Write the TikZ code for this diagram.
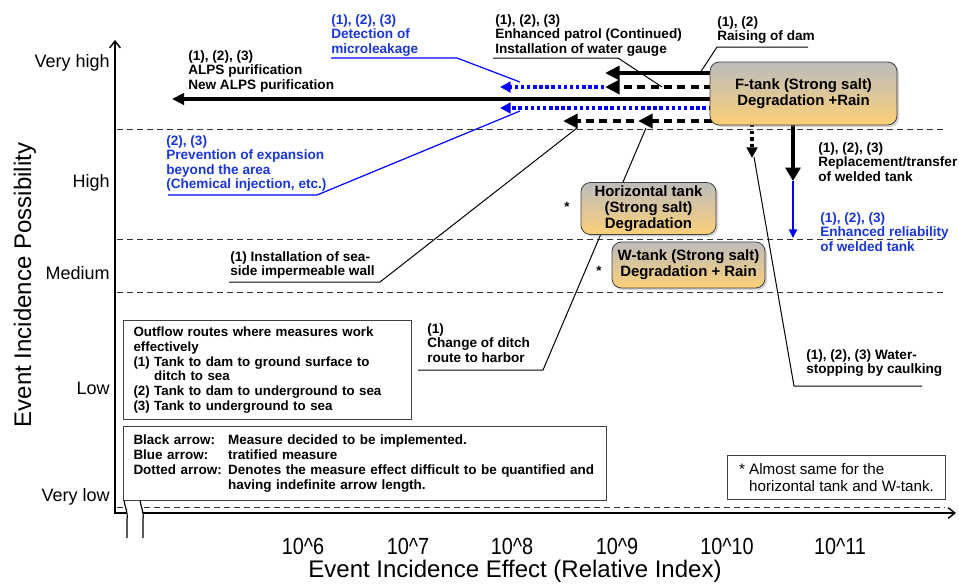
\documentclass[tikz,border=0pt]{standalone}
\usepackage{fontspec}
\setmainfont{Liberation Sans}
\usepackage{graphicx}
\usetikzlibrary{arrows.meta,shadows}
\definecolor{tblue}{RGB}{25,55,215}
\definecolor{ablue}{RGB}{0,0,255}
\definecolor{tgray}{RGB}{188,188,188}
\definecolor{torange}{RGB}{252,208,120}
\definecolor{gridc}{RGB}{50,50,50}
\begin{document}
\begin{tikzpicture}[x=0.75pt,y=-0.75pt,
  lbl/.style={anchor=north west,inner sep=0pt,align=left,font=\bfseries\fontsize{10.2}{10.9}\selectfont},
  bluelbl/.style={lbl,text=tblue},
  tankbox/.style={draw=black!75,line width=0.6pt,rounded corners=7pt,top color=tgray,bottom color=torange,
    align=center,font=\bfseries\fontsize{11.2}{11.8}\selectfont,inner sep=0pt,
    drop shadow={shadow xshift=1.5pt,shadow yshift=-1.5pt,opacity=0.35}},
  legbox/.style={draw=black!75,line width=0.75pt,anchor=north west,inner xsep=7.5pt,inner ysep=3pt},
  ylab/.style={anchor=east,inner sep=0pt,font=\fontsize{13.5}{14}\selectfont},
  tick/.style={inner sep=0pt,font=\fontsize{17.5}{18}\selectfont},
  gridline/.style={gridc,line width=0.75pt,dash pattern=on 4.5pt off 3pt},
  axisline/.style={black,line width=1.1pt},
  leader/.style={black,line width=0.75pt},
  blueleader/.style={ablue,line width=0.9pt},
  solidarrow/.style={black,line width=3pt,-{Triangle[length=11pt,width=10.5pt]}},
  dasharrow/.style={black,line width=3pt,dash pattern=on 6pt off 4pt,-{Triangle[length=11pt,width=10.5pt]}},
  bluedot/.style={ablue,line width=2.3pt,dash pattern=on 2.6pt off 2pt,-{Triangle[length=8pt,width=8pt]}},
]
\useasboundingbox (0,0) rectangle (959,583);

% axes
\coordinate (org) at (115,513);
\coordinate (ytop) at (115,40);
\coordinate (brkL) at (126,513);
\coordinate (brkR) at (143,513);
\coordinate (xend) at (956,513);
\draw[axisline,-{Straight Barb[length=5pt,width=8pt]}] (brkL) -- (org) -- (ytop);
\draw[axisline,-{Straight Barb[length=5pt,width=8pt]}] (brkR) -- (xend);
\draw[black,line width=0.9pt] (124,500) .. controls (125,508) and (128,511) .. (127,520) -- (127,538);
\draw[black,line width=0.9pt] (140,500) .. controls (141,508) and (144,511) .. (143,520) -- (143,538);

% grid lines
\draw[gridline] (117,129) -- (945,129);
\draw[gridline] (117,239) -- (945,239);
\draw[gridline] (117,292) -- (945,292);
\draw[gridline] (117,507) -- (124,507);
\draw[gridline] (144,507) -- (945,507);

% axis labels
\node[ylab] (vh) at (110,63) {Very high};
\node[ylab] (hi) at (110,183) {High};
\node[ylab] (me) at (110,273) {Medium};
\node[ylab] (lo) at (110,388) {Low};
\node[ylab] (vl) at (110,497) {Very low};
\node[rotate=90,inner sep=0pt,font=\fontsize{18}{20}\selectfont] (ytitle) at (25,285) {Event Incidence Possibility};
\node[inner sep=0pt,font=\fontsize{18}{20}\selectfont] (xtitle) at (515,571) {Event Incidence Effect (Relative Index)};
\node[tick] (t6) at (303,546) {\scalebox{0.85}[1]{10\textasciicircum 6}};
\node[tick] (t7) at (408,546) {\scalebox{0.85}[1]{10\textasciicircum 7}};
\node[tick] (t8) at (512,546) {\scalebox{0.85}[1]{10\textasciicircum 8}};
\node[tick] (t9) at (617,546) {\scalebox{0.85}[1]{10\textasciicircum 9}};
\node[tick] (t10) at (727,546) {\scalebox{0.85}[1]{10\textasciicircum 10}};
\node[tick] (t11) at (840,546) {\scalebox{0.85}[1]{10\textasciicircum 11}};

% leader lines
\coordinate (pa1) at (493,58); \coordinate (pa2) at (618,58); \coordinate (pa3) at (662,87);
\coordinate (da1) at (808,47); \coordinate (da2) at (717,47); \coordinate (da3) at (700,73);
\coordinate (mi1) at (331,58); \coordinate (mi2) at (457,58); \coordinate (mi3) at (520,82);
\coordinate (pr1) at (168,195); \coordinate (pr2) at (317,195); \coordinate (pr3) at (520,111);
\coordinate (sw1) at (229,282); \coordinate (sw2) at (380,282); \coordinate (sw3) at (577,128);
\coordinate (di1) at (418,370); \coordinate (di2) at (543,370); \coordinate (di3) at (646,128);
\coordinate (ca1) at (922,386); \coordinate (ca2) at (794,386); \coordinate (ca3) at (754,157);
\draw[leader] (pa1) -- (pa2) -- (pa3);
\draw[leader] (da1) -- (da2) -- (da3);
\draw[blueleader] (mi1) -- (mi2) -- (mi3);
\draw[blueleader] (pr1) -- (pr2) -- (pr3);
\draw[leader] (sw1) -- (sw2) -- (sw3);
\draw[leader] (di1) -- (di2) -- (di3);
\draw[leader] (ca1) -- (ca2) -- (ca3);

% arrows from the F-tank
\coordinate (a1s) at (712,73);  \coordinate (a1e) at (605,73);
\coordinate (a2s) at (712,87);  \coordinate (a2e) at (605,87);
\coordinate (a3s) at (604,87);  \coordinate (a3e) at (500,87);
\coordinate (a4s) at (712,99);  \coordinate (a4e) at (172,99);
\coordinate (a5s) at (712,108); \coordinate (a5e) at (500,108);
\coordinate (a6s) at (712,121); \coordinate (a6m) at (638,121);
\coordinate (a6n) at (634,121); \coordinate (a6e) at (563,121);
\draw[solidarrow] (a1s) -- (a1e);
\draw[dasharrow] (a2s) -- (a2e);
\draw[bluedot] (a3s) -- (a3e);
\draw[black,line width=2.3pt,-{Triangle[length=9pt,width=8.5pt]}] (a4s) -- (a4e);
\draw[bluedot] (a5s) -- (a5e);
\draw[dasharrow] (a6s) -- (a6m);
\draw[dasharrow] (a6n) -- (a6e);

% vertical arrows
\coordinate (v1s) at (752,124); \coordinate (v1e) at (752,158);
\coordinate (v2s) at (793,124); \coordinate (v2e) at (793,181);
\coordinate (v3e) at (793,238);
\draw[black,line width=2.3pt,dash pattern=on 2.6pt off 2.4pt,-{Triangle[length=8pt,width=8pt]}] (v1s) -- (v1e);
\draw[solidarrow,-{Triangle[length=10pt,width=11pt]}] (v2s) -- (v2e);
\draw[ablue,line width=1.6pt,-{Triangle[length=6.5pt,width=6pt]}] (v2e) -- (v3e);

% tanks
\node[tankbox,minimum width=140.25pt,minimum height=47.25pt] (ftank) at (803.5,93.5) {F-tank (Strong salt)\\Degradation +Rain};
\node[tankbox,minimum width=101.25pt,minimum height=39pt,font=\bfseries\fontsize{11.2}{12}\selectfont] (htank) at (648.5,208.5) {Horizontal tank\\(Strong salt)\\Degradation};
\node[tankbox,minimum width=114.75pt,minimum height=34.5pt,font=\bfseries\fontsize{11.2}{12}\selectfont] (wtank) at (688.5,265) {W-tank (Strong salt)\\Degradation + Rain};
\node[inner sep=0pt,font=\bfseries\fontsize{10}{10}\selectfont] (star1) at (567,207) {*};
\node[inner sep=0pt,font=\bfseries\fontsize{10}{10}\selectfont] (star2) at (599,271) {*};

% labels
\node[lbl] (patrol) at (495,14) {(1), (2), (3)\\Enhanced patrol (Continued)\\Installation of water gauge};
\node[lbl] (dam) at (717,16) {(1), (2)\\Raising of dam};
\node[lbl] (alps) at (188,50) {(1), (2), (3)\\ALPS purification\\New ALPS purification};
\node[bluelbl] (micro) at (331,14) {(1), (2), (3)\\Detection of\\microleakage};
\node[bluelbl] (prev) at (166,135) {(2), (3)\\Prevention of expansion\\beyond the area\\(Chemical injection, etc.)};
\node[lbl] (seawall) at (230,251) {(1) Installation of sea-\\side impermeable wall};
\node[lbl] (ditch) at (427,323) {(1)\\Change of ditch\\route to harbor};
\node[lbl] (replace) at (818,142) {(1), (2), (3)\\Replacement/transfer\\of welded tank};
\node[bluelbl] (reliab) at (820,212) {(1), (2), (3)\\Enhanced reliability\\of welded tank};
\node[lbl] (caulk) at (806,349) {(1), (2), (3) Water-\\stopping by caulking};

% legends
\node[legbox,text width=201pt,minimum height=74.25pt,align=left,font=\bfseries\fontsize{10}{11.1}\selectfont] (leg1) at (123,320)
 {Outflow routes where measures work\\effectively\\(1) Tank to dam to ground surface to\\\phantom{(1) }ditch to sea\\(2) Tank to dam to underground to sea\\(3) Tank to underground to sea};
\node[legbox,text width=347pt,minimum height=55.5pt,font=\bfseries\fontsize{10.1}{11.25}\selectfont] (leg2) at (123,426)
 {\begin{tabular}{@{}p{71pt}@{}l@{}}Black arrow: & Measure decided to be implemented.\\Blue arrow: & tratified measure\\Dotted arrow: & Denotes the measure effect difficult to be quantified and\\ & having indefinite arrow length.\end{tabular}};
\node[legbox,minimum width=163.5pt,minimum height=33pt,align=left,inner xsep=6pt,font=\fontsize{11.4}{12.4}\selectfont] (leg3) at (727,455)
 {* Almost same for the\\\phantom{* }horizontal tank and W-tank.};
\end{tikzpicture}
\end{document}
